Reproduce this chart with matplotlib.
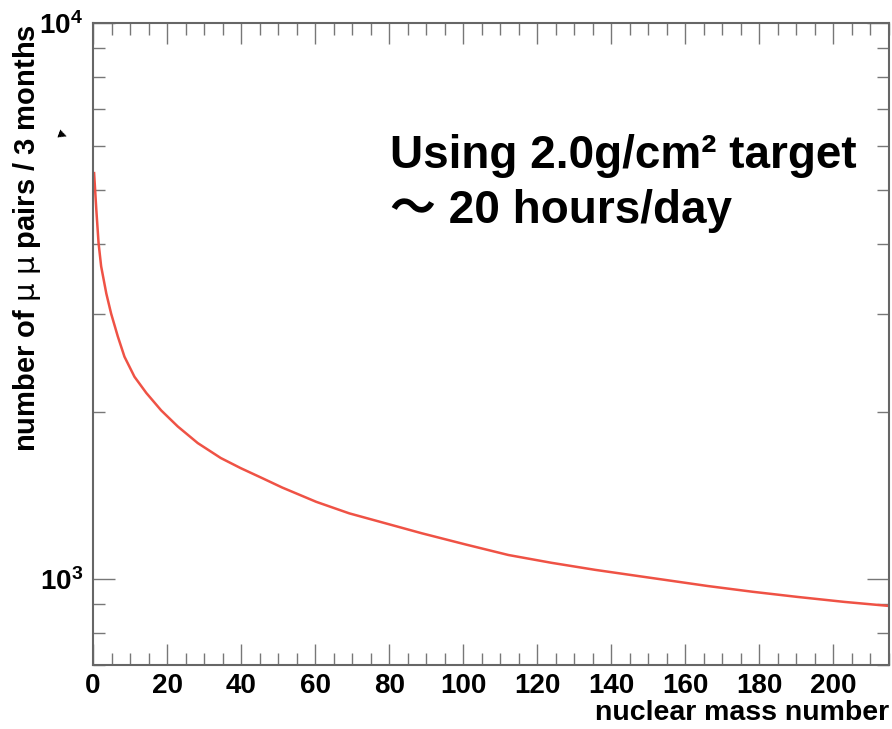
import numpy as np
import matplotlib
matplotlib.use("Agg")
import matplotlib.pyplot as plt
from matplotlib.ticker import MultipleLocator, LogLocator, NullFormatter

# data (mass number A, mu-mu pairs per 3 months)
mass_number = [0.3, 0.9, 1.5, 2.2, 3.6, 4.9, 6.7, 8.5, 11.2, 14.4, 18.4, 22.9,
               28.3, 34.5, 39.9, 45.8, 51.1, 60.3, 69.2, 82.6, 88.8, 100.7,
               112.2, 123.8, 135.7, 147.2, 154, 166, 178.2, 190.3, 203, 215]
n_pairs = [5370, 4610, 4020, 3650, 3260, 3000, 2730, 2510, 2310, 2160, 2010, 1880,
           1755, 1650, 1582, 1517, 1460, 1376, 1312, 1240, 1208, 1153,
           1104, 1069, 1038, 1012, 997, 971, 948, 928, 909, 894]

x_range = (0, 215)
y_range = (700, 1e4)

plt.rcParams['font.family'] = ['Liberation Sans', 'DejaVu Sans']
plt.rcParams['font.weight'] = 'bold'
# thin upright mu in the y label
plt.rcParams['mathtext.fontset'] = 'custom'
plt.rcParams['mathtext.rm'] = 'DejaVu Sans:weight=normal'

fig = plt.figure(figsize=(8.92, 7.29), dpi=100)
ax = fig.add_axes([93 / 892, 64 / 729, 796 / 892, 642 / 729])

ax.plot(mass_number, n_pairs, color='#ef5245', lw=1.8)
ax.set_yscale('log')
ax.set_xlim(*x_range)
ax.set_ylim(*y_range)

ax.xaxis.set_major_locator(MultipleLocator(20))
ax.xaxis.set_minor_locator(MultipleLocator(5))
ax.yaxis.set_major_locator(LogLocator(base=10))
ax.yaxis.set_minor_locator(LogLocator(base=10, subs=np.arange(2, 10)))
ax.yaxis.set_minor_formatter(NullFormatter())

tick_grey = '#777777'
ax.tick_params(which='both', direction='in', top=True, right=True, color=tick_grey,
               width=1.0, labelsize=20)
ax.tick_params(axis='x', which='major', length=15, pad=6)
ax.tick_params(axis='x', which='minor', length=8.5)
ax.tick_params(axis='y', which='major', length=16, pad=7)
ax.tick_params(axis='y', which='minor', length=8.5)

for sp in ax.spines.values():
    sp.set_color('#666666')
    sp.set_linewidth(1.5)

ax.set_xlabel('nuclear mass number', loc='right', fontsize=20.5, fontweight='bold', labelpad=0.5)

fig.text(27 / 892, 1 - 24 / 729, r'number of $\mathrm{\mu}$ $\mathrm{\mu}$ pairs / 3 months',
         rotation=90, ha='center', va='top', fontsize=21, fontweight='bold')
fig.text(62 / 892, 1 - 134 / 729, '▶', fontsize=8, ha='center', va='center',
         family='DejaVu Sans', rotation=-20)

fig.text(390 / 892, 1 - 168 / 729, 'Using 2.0g/cm² target', fontsize=33, fontweight='bold',
         ha='left', va='baseline')
fig.text(390 / 892, 1 - 223 / 729, '〜 20 hours/day', fontsize=33, fontweight='bold',
         ha='left', va='baseline', family=['Liberation Sans', 'Noto Sans CJK JP', 'DejaVu Sans'])

fig.savefig('out.png', dpi=100)
